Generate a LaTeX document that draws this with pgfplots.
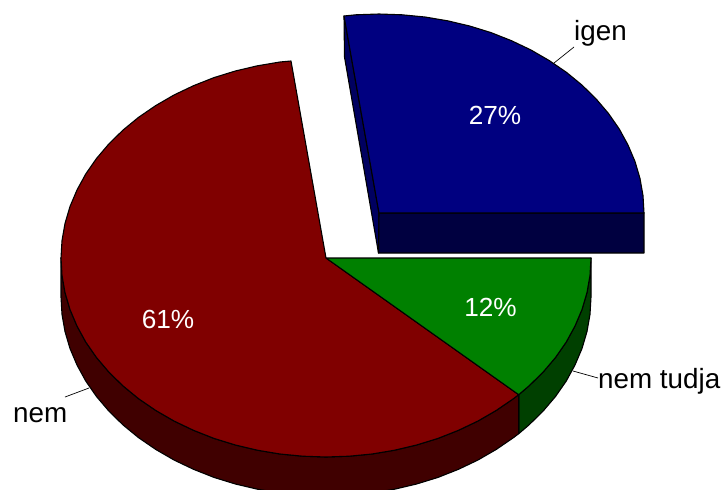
\documentclass[border=0pt]{standalone}
\usepackage{pgfplots}
\pgfplotsset{compat=1.18}
\usepackage{fontspec}
\setmainfont{Liberation Sans}
\definecolor{blue-top}{HTML}{000080}
\definecolor{blue-left}{HTML}{000060}
\definecolor{blue-front}{HTML}{000040}
\definecolor{red-top}{HTML}{800000}
\definecolor{red-side}{HTML}{400000}
\definecolor{green-top}{HTML}{008000}
\definecolor{green-side}{HTML}{004000}
\newcommand{\lab}{\fontsize{27.8}{30}\selectfont}
\newcommand{\pct}{\fontsize{26.2}{30}\selectfont}

\begin{document}
\begin{tikzpicture}
	% hidden axes do not count for the page size
	\path[use as bounding box] (0,0) rectangle (724pt,490pt);
	\begin{axis}[
		at={(0,0)},
		anchor=south west,
		width=724pt,
		height=490pt,
		scale only axis,
		xmin=0, xmax=724,
		ymin=0, ymax=490,
		y dir=reverse,
		axis lines=none,
		clip=true,
		every axis plot/.append style={draw=black, line width=1.1pt, line join=round}
	]
		% nem tudja, rim
		\addplot[fill=green-side] coordinates {
			(518.7,394.7) (529,385.9) (543.1,372.1) (555.5,357.5) (566.2,342.1) (575,326)
			(582,309.5) (587,292.5) (590,275.4) (591,258)
			(591,297) (590,314.4) (587,331.5) (582,348.5) (575,365) (566.2,381.1)
			(555.5,396.5) (543.1,411.1) (529,424.9) (518.7,433.7)
		} -- cycle;
		% nem, rim
		\addplot[fill=red-side] coordinates {
			(61,258) (62,275.4) (65,292.5) (70,309.5) (77,326) (85.8,342.1) (96.5,357.5)
			(108.9,372.1) (123,385.9) (138.6,398.7) (155.7,410.4) (174,421) (193.5,430.3)
			(214,438.4) (235.4,445) (257.4,450.2) (280,454) (302.9,456.2) (326,457)
			(349.1,456.2) (372,454) (394.6,450.2) (416.6,445) (438,438.4) (458.5,430.3)
			(478,421) (496.3,410.4) (513.4,398.7) (518.7,394.7)
			(518.7,433.7) (513.4,437.7) (496.3,449.4) (478,460) (458.5,469.3) (438,477.4)
			(416.6,484) (394.6,489.2) (372,493) (349.1,495.2) (326,496) (302.9,495.2)
			(280,493) (257.4,489.2) (235.4,484) (214,477.4) (193.5,469.3) (174,460)
			(155.7,449.4) (138.6,437.7) (123,424.9) (108.9,411.1) (96.5,396.5) (85.8,381.1)
			(77,365) (70,348.5) (65,331.5) (62,314.4) (61,297)
		} -- cycle;
		% nem, top
		\addplot[fill=red-top] coordinates {
			(326,258) (291,61) (280,62) (257.4,65.8) (235.4,71) (214,77.6) (193.5,85.7)
			(174,95) (155.7,105.6) (138.6,117.3) (123,130.1) (108.9,143.9) (96.5,158.5)
			(85.8,173.9) (77,190) (70,206.5) (65,223.5) (62,240.6) (61,258) (62,275.4)
			(65,292.5) (70,309.5) (77,326) (85.8,342.1) (96.5,357.5) (108.9,372.1)
			(123,385.9) (138.6,398.7) (155.7,410.4) (174,421) (193.5,430.3) (214,438.4)
			(235.4,445) (257.4,450.2) (280,454) (302.9,456.2) (326,457) (349.1,456.2)
			(372,454) (394.6,450.2) (416.6,445) (438,438.4) (458.5,430.3) (478,421)
			(496.3,410.4) (513.4,398.7) (518.7,394.7)
		} -- cycle;
		% nem tudja, top
		\addplot[fill=green-top] coordinates {
			(326,258) (518.7,394.7) (529,385.9) (543.1,372.1) (555.5,357.5) (566.2,342.1)
			(575,326) (582,309.5) (587,292.5) (590,275.4) (591,258)
		} -- cycle;
		% igen, exploded
		\addplot[fill=blue-left] coordinates {
			(344,16) (379,213) (378.5,253) (344.5,57)
		} -- cycle;
		\addplot[fill=blue-front] coordinates {
			(379,213) (644,213) (644,253) (378.5,253)
		} -- cycle;
		\addplot[fill=blue-top] coordinates {
			(379,213) (644,213) (643,195.6) (640,178.5) (635,161.5) (628,145) (619.2,128.9)
			(608.5,113.5) (596.1,98.9) (582,85.1) (566.4,72.3) (549.3,60.6) (531,50)
			(511.5,40.7) (491,32.6) (469.6,26) (447.6,20.8) (425,17) (402.1,14.8) (379,14)
			(355.9,14.8) (344,16)
		} -- cycle;
		% leader lines
		\addplot[line width=0.7pt] coordinates {(554,63) (574,47)};
		\addplot[line width=0.7pt] coordinates {(573,371) (598,378)};
		\addplot[line width=0.7pt] coordinates {(89,388) (65,397)};

		\node[anchor=base west, inner sep=0pt, text=black] at (axis cs:574,40) {\lab igen};
		\node[anchor=base west, inner sep=0pt, text=black] at (axis cs:598,388) {\lab nem tudja};
		\node[anchor=base west, inner sep=0pt, text=black] at (axis cs:13,422) {\lab nem};
		\node[anchor=base, inner sep=0pt, text=white] at (axis cs:495,124) {\pct 27\%};
		\node[anchor=base, inner sep=0pt, text=white] at (axis cs:490.5,316) {\pct 12\%};
		\node[anchor=base, inner sep=0pt, text=white] at (axis cs:168,328) {\pct 61\%};
	\end{axis}
\end{tikzpicture}
\end{document}
